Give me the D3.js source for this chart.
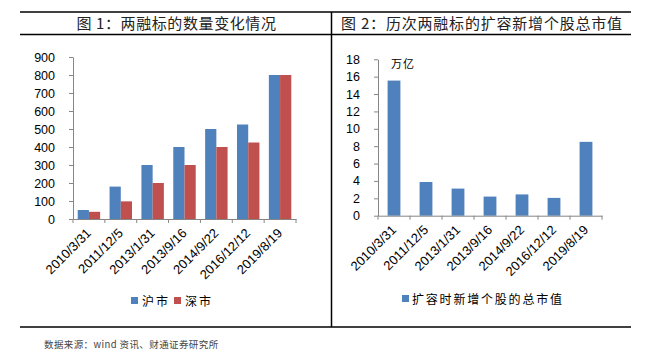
<!DOCTYPE html>
<html><head><meta charset="utf-8">
<script src="https://cdn.jsdelivr.net/npm/d3@7"></script>
<style>
body{margin:0;background:#fff;}
svg{display:block;}
</style></head><body>
<svg id="c" width="649" height="359"></svg>
<script>
const categories = ["2010/3/31","2011/12/5","2013/1/31","2013/9/16","2014/9/22","2016/12/12","2019/8/19"];
const shValues = [50,180,300,400,500,525,800];
const szValues = [40,98,200,300,400,425,800];
const capValues = [15.55,3.88,3.12,2.2,2.45,2.05,8.5];
const yTicks1 = [0,100,200,300,400,500,600,700,800,900];
const yTicks2 = [0,2,4,6,8,10,12,14,16,18];
const title1 = "图 1：两融标的数量变化情况";
const title2 = "图 2：历次两融标的扩容新增个股总市值";
const legend1 = ["沪市","深市"];
const legend2 = "扩容时新增个股的总市值";
const source = "数据来源：wind 资讯、财通证券研究所";
const unit2 = "万亿";

const blue = "#4f81bd", red = "#c0504d";
const numFont = "'Liberation Sans', Arial, sans-serif";
const cjkFont = "'Noto Sans CJK SC', sans-serif";
const svg = d3.select("#c");

// frame lines
const frame = svg.append("g").attr("stroke","#000");
frame.append("line").attr("x1",20).attr("x2",631).attr("y1",12).attr("y2",12).attr("stroke-width",1.5);
frame.append("line").attr("x1",20).attr("x2",631).attr("y1",34.5).attr("y2",34.5).attr("stroke-width",1.5);
frame.append("line").attr("x1",20).attr("x2",631).attr("y1",327).attr("y2",327).attr("stroke-width",1.5);
frame.append("line").attr("x1",331.5).attr("x2",331.5).attr("y1",12).attr("y2",327).attr("stroke-width",1.5);

// titles
svg.append("text").attr("x",176.5).attr("y",28.5).attr("text-anchor","middle")
  .attr("font-family",cjkFont).attr("font-size",15).attr("letter-spacing",0.6)
  .attr("fill","#222").text(title1);
svg.append("text").attr("x",341).attr("y",28.5)
  .attr("font-family",cjkFont).attr("font-size",15).attr("letter-spacing",0.8)
  .attr("fill","#222").text(title2);

svg.append("text").attr("x",44).attr("y",348)
  .attr("font-family",cjkFont).attr("font-size",9.5).attr("letter-spacing",0.4)
  .attr("fill","#444").text(source);

function styleAxis(g){
  g.select(".domain").attr("stroke","#868686");
  g.selectAll(".tick line").attr("stroke","#868686");
  g.selectAll(".tick text").attr("font-family",numFont).attr("font-size",12.5).attr("fill","#000");
}

// ---- Chart 1 ----
const x1 = d3.scaleBand().domain(categories).range([73,296]);
const y1 = d3.scaleLinear().domain([0,900]).range([219,57]);
const inner1 = d3.scaleBand().domain(["sh","sz"]).range([0,x1.bandwidth()]).paddingOuter(0.42).paddingInner(0);

const gy1 = svg.append("g").attr("transform","translate(73,0)")
  .call(d3.axisLeft(y1).tickValues(yTicks1).tickSize(4).tickPadding(14).tickSizeOuter(0));
styleAxis(gy1);

const bars1 = svg.append("g");
categories.forEach((c,i)=>{
  bars1.append("rect").attr("x",x1(c)+inner1("sh")).attr("width",inner1.bandwidth())
    .attr("y",y1(shValues[i])).attr("height",y1(0)-y1(shValues[i])).attr("fill",blue);
  bars1.append("rect").attr("x",x1(c)+inner1("sz")).attr("width",inner1.bandwidth())
    .attr("y",y1(szValues[i])).attr("height",y1(0)-y1(szValues[i])).attr("fill",red);
});

const gx1 = svg.append("g").attr("transform","translate(0,219)")
  .call(d3.axisBottom(x1).tickSize(0).tickSizeOuter(0));
styleAxis(gx1);
gx1.selectAll(".tick text").attr("text-anchor","end").attr("dy",0).attr("font-size",13)
  .attr("transform","translate(3,15) rotate(-45)").attr("y",0).attr("x",0);
gx1.selectAll(".bt").data(d3.range(categories.length+1)).join("line")
  .attr("x1",d=>73+d*x1.step()).attr("x2",d=>73+d*x1.step())
  .attr("y1",0).attr("y2",4).attr("stroke","#868686");

// legend 1
const lg1 = svg.append("g").attr("font-family",cjkFont).attr("font-size",12).attr("letter-spacing",2);
lg1.append("rect").attr("x",131).attr("y",297).attr("width",7).attr("height",7).attr("fill",blue);
lg1.append("text").attr("x",142).attr("y",305.5).text(legend1[0]);
lg1.append("rect").attr("x",174).attr("y",297).attr("width",7).attr("height",7).attr("fill",red);
lg1.append("text").attr("x",185).attr("y",305.5).text(legend1[1]);

// ---- Chart 2 ----
const x2 = d3.scaleBand().domain(categories).range([378,602]).paddingInner(0.6).paddingOuter(0.3);
const y2 = d3.scaleLinear().domain([0,18]).range([215.7,59.3]);

const gy2 = svg.append("g").attr("transform","translate(378,0)")
  .call(d3.axisLeft(y2).tickValues(yTicks2).tickSize(4).tickPadding(14).tickSizeOuter(0));
styleAxis(gy2);

svg.append("g").selectAll("rect").data(categories).join("rect")
  .attr("x",d=>x2(d)).attr("width",x2.bandwidth())
  .attr("y",(d,i)=>y2(capValues[i])).attr("height",(d,i)=>y2(0)-y2(capValues[i]))
  .attr("fill",blue);

const step2 = (602-378)/categories.length;
const gx2 = svg.append("g").attr("transform","translate(0,215.7)")
  .call(d3.axisBottom(x2).tickSize(0).tickSizeOuter(0));
styleAxis(gx2);
gx2.selectAll(".tick text").attr("text-anchor","end").attr("dy",0).attr("font-size",13)
  .attr("transform","translate(3,15) rotate(-45)").attr("y",0).attr("x",0);
gx2.selectAll(".bt").data(d3.range(categories.length+1)).join("line")
  .attr("x1",d=>378+d*step2).attr("x2",d=>378+d*step2)
  .attr("y1",0).attr("y2",4).attr("stroke","#868686");

svg.append("text").attr("x",391).attr("y",68).attr("font-family",cjkFont)
  .attr("font-size",11).attr("letter-spacing",1).text(unit2);

const lg2 = svg.append("g").attr("font-family",cjkFont).attr("font-size",12).attr("letter-spacing",1.8);
lg2.append("rect").attr("x",402).attr("y",295).attr("width",7).attr("height",7).attr("fill",blue);
lg2.append("text").attr("x",412).attr("y",303.5).text(legend2);
</script>
</body></html>
